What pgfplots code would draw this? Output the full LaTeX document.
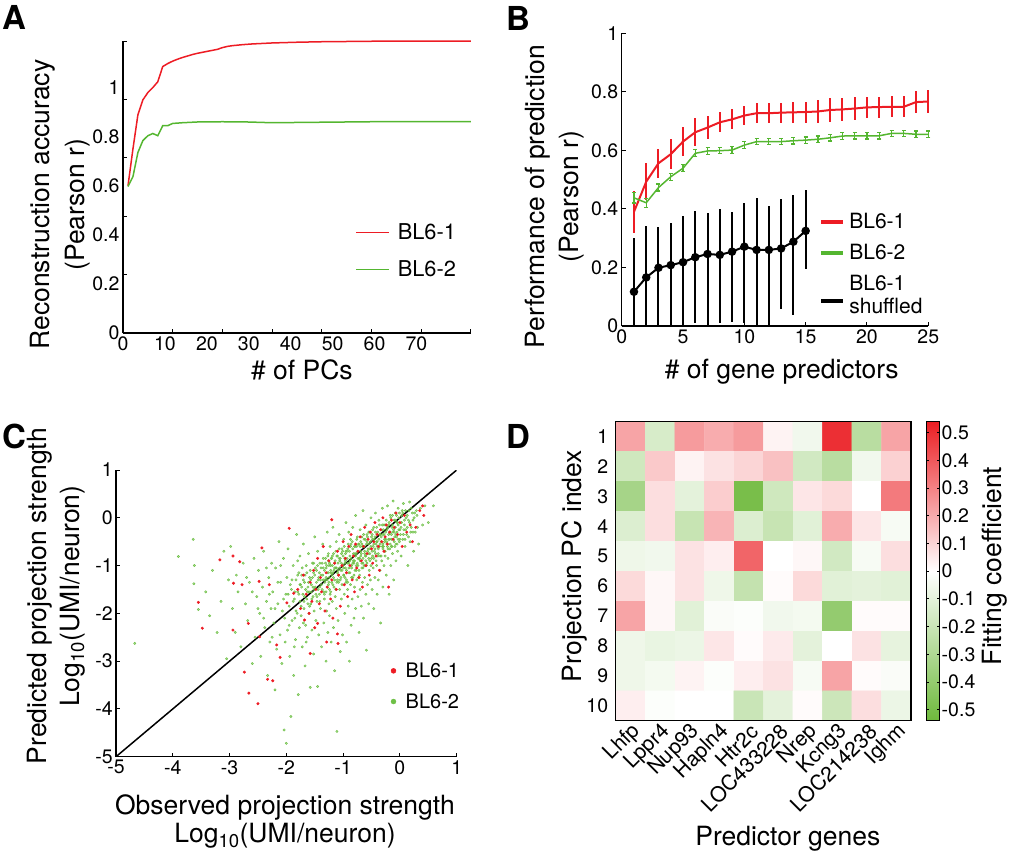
\documentclass[border=0pt]{standalone}
\usepackage{fontspec}
\setmainfont{TeX Gyre Heros}
\usepackage{pgfplots}
\pgfplotsset{compat=1.18}
\definecolor{cred}{RGB}{237,28,36}
\definecolor{cgreen}{RGB}{84,182,48}
\definecolor{dotgreen}{RGB}{110,192,70}
\pgfkeys{/pgf/number format/assume math mode=true}
\pgfplotsset{
  panel/.style={
    scale only axis, anchor=south west,
    axis lines=left, axis line style={-, line width=1.3pt},
    tick align=inside, major tick length=4pt,
    tick style={line width=1pt, black},
    tick label style={font=\fontsize{19.5}{22}\selectfont},
    label style={font=\fontsize{26.5}{31}\selectfont, align=center},
    legend style={draw=none, fill=none, inner sep=0pt, font=\fontsize{21}{23.3}\selectfont,
      nodes={inner sep=2pt}, cells={align=left}},
    legend cell align=left,
  },
}
\begin{document}
\begin{tikzpicture}
\path[use as bounding box] (0pt,0pt) rectangle (1010pt,-860pt);
\node[font=\fontsize{33}{33}\selectfont\bfseries] at (14pt,-17pt) {A};
\node[font=\fontsize{33}{33}\selectfont\bfseries] at (518pt,-18pt) {B};
\node[font=\fontsize{33}{33}\selectfont\bfseries] at (14pt,-436pt) {C};
\node[font=\fontsize{33}{33}\selectfont\bfseries] at (518pt,-436pt) {D};

% ---------- A ----------
\begin{axis}[panel, at={(123pt,-333pt)}, width=348pt, height=292pt,
  xmin=0, xmax=83, ymin=0, ymax=1.19, clip=false,
  xtick={0,10,...,70}, ytick={0,0.2,0.4,0.6,0.8,1},
  major tick length=0pt,
  extra x ticks={11.85,23.7,35.55,47.4,59.25,71.1,82.95}, extra x tick labels={},
  extra y ticks={0.238,0.476,0.714,0.952,1.19}, extra y tick labels={},
  extra tick style={major tick length=4pt},
  xlabel={\# of PCs}, ylabel={Reconstruction accuracy\\(Pearson r)},
  xlabel style={at={(axis description cs:0.514,-0.127)}, anchor=center},
  ylabel style={at={(axis description cs:-0.18,0.44)}, anchor=center, font=\fontsize{26.5}{35}\selectfont},
  legend image code/.code={\draw[#1] (0pt,0pt) -- (33pt,0pt);},
  legend style={at={(axis description cs:0.667,0.281)}, anchor=west, row sep=16pt, column sep=6pt,
    font=\fontsize{21.8}{24}\selectfont},
]
\addplot[cred, line width=1.5pt, forget plot] coordinates {
 (1.19,0.60) (2.37,0.75) (3.56,0.89) (4.74,0.95) (5.93,0.98) (7.11,1.00) (8.30,1.024)
 (9.48,1.086) (10.67,1.098) (11.85,1.108) (13.04,1.116) (14.22,1.123) (15.41,1.129)
 (16.59,1.135) (17.78,1.140) (18.96,1.144) (20.15,1.148) (21.33,1.152) (22.52,1.156)
 (23.70,1.163) (24.89,1.168) (26.07,1.171) (28.44,1.175) (30.81,1.178) (35.55,1.182)
 (41.48,1.185) (47.40,1.187) (59.25,1.189) (71.10,1.19) (82.95,1.19)};
\addplot[cgreen, line width=1.5pt, forget plot] coordinates {
 (1.19,0.597) (2.37,0.637) (3.56,0.736) (4.74,0.784) (5.93,0.804) (7.11,0.813) (8.30,0.804)
 (9.48,0.845) (10.67,0.845) (11.85,0.854) (14.22,0.857) (17.78,0.86) (23.70,0.861)
 (29.63,0.86) (35.55,0.857) (47.40,0.859) (59.25,0.861) (82.95,0.861)};
\addlegendimage{cred, line width=1.5pt}
\addlegendentry{BL6-1}
\addlegendimage{cgreen, line width=1.5pt}
\addlegendentry{BL6-2}
\end{axis}

% ---------- B ----------
\begin{axis}[panel, at={(621.7pt,-326pt)}, width=306.6pt, height=292.7pt,
  xmin=0, xmax=25, ymin=0, ymax=1, clip=false,
  xtick={0,5,...,25}, ytick={0,0.2,0.4,0.6,0.8,1},
  xlabel={\# of gene predictors}, ylabel={Performance of prediction\\(Pearson r)},
  xlabel style={at={(axis description cs:0.522,-0.156)}, anchor=center},
  ylabel style={at={(axis description cs:-0.218,0.442)}, anchor=center, font=\fontsize{26.5}{33.7}\selectfont},
  legend image code/.code={\draw[#1] (0pt,0pt) -- (22pt,0pt);},
  legend style={at={(axis description cs:0.644,0.392)}, anchor=north west, row sep=10pt, column sep=2pt},
]
\addplot[cred, line width=2pt, forget plot,
  error bars/.cd, y dir=both, y explicit, error bar style={line width=2pt, cred}, error mark=none]
 coordinates {
 (1,0.39) +- (0,0.072) (2,0.493) +- (0,0.063) (3,0.556) +- (0,0.05) (4,0.587) +- (0,0.052)
 (5,0.63) +- (0,0.05) (6,0.662) +- (0,0.047) (7,0.678) +- (0,0.04) (8,0.696) +- (0,0.034)
 (9,0.706) +- (0,0.034) (10,0.719) +- (0,0.031) (11,0.727) +- (0,0.034) (12,0.727) +- (0,0.034)
 (13,0.729) +- (0,0.034) (14,0.73) +- (0,0.036) (15,0.731) +- (0,0.036) (16,0.733) +- (0,0.04)
 (17,0.738) +- (0,0.04) (18,0.74) +- (0,0.04) (19,0.743) +- (0,0.038) (20,0.747) +- (0,0.036)
 (21,0.748) +- (0,0.036) (22,0.749) +- (0,0.036) (23,0.749) +- (0,0.036) (24,0.765) +- (0,0.038)
 (25,0.767) +- (0,0.038)};
\addplot[cgreen, line width=1.5pt, forget plot,
  error bars/.cd, y dir=both, y explicit, error bar style={line width=1.2pt, cgreen},
  error mark options={rotate=90, mark size=2pt, line width=1.2pt, cgreen}]
 coordinates {
 (1,0.438) +- (0,0.018) (2,0.421) +- (0,0.015) (3,0.473) +- (0,0.012) (4,0.51) +- (0,0.012)
 (5,0.539) +- (0,0.012) (6,0.59) +- (0,0.012) (7,0.598) +- (0,0.011) (8,0.599) +- (0,0.011)
 (9,0.601) +- (0,0.011) (10,0.618) +- (0,0.011) (11,0.63) +- (0,0.011) (12,0.63) +- (0,0.011)
 (13,0.63) +- (0,0.011) (14,0.633) +- (0,0.011) (15,0.635) +- (0,0.011) (16,0.638) +- (0,0.011)
 (17,0.643) +- (0,0.011) (18,0.649) +- (0,0.011) (19,0.65) +- (0,0.011) (20,0.65) +- (0,0.011)
 (21,0.65) +- (0,0.011) (22,0.658) +- (0,0.011) (23,0.658) +- (0,0.011) (24,0.655) +- (0,0.011)
 (25,0.655) +- (0,0.011)};
\addplot[black, line width=2pt, mark=*, mark size=3.2pt, forget plot,
  error bars/.cd, y dir=both, y explicit, error bar style={line width=2pt, black}, error mark=none]
 coordinates {
 (1,0.117) += (0,0.183) -= (0,0.117) (2,0.166) += (0,0.177) -= (0,0.166)
 (3,0.199) += (0,0.138) -= (0,0.199) (4,0.208) += (0,0.143) -= (0,0.208)
 (5,0.218) += (0,0.158) -= (0,0.218) (6,0.235) += (0,0.158) -= (0,0.224)
 (7,0.246) += (0,0.139) -= (0,0.246) (8,0.243) += (0,0.156) -= (0,0.234)
 (9,0.254) += (0,0.137) -= (0,0.239) (10,0.271) += (0,0.148) -= (0,0.262)
 (11,0.26) += (0,0.176) -= (0,0.257) (12,0.26) += (0,0.15) -= (0,0.26)
 (13,0.265) += (0,0.168) -= (0,0.208) (14,0.288) += (0,0.16) -= (0,0.25)
 (15,0.325) += (0,0.14) -= (0,0.131)};
\addlegendimage{cred, line width=4pt}
\addlegendentry{BL6-1}
\addlegendimage{cgreen, line width=4pt}
\addlegendentry{BL6-2}
\addlegendimage{black, line width=4pt, yshift=-6pt}
\addlegendentry{BL6-1\\shuffled}
\end{axis}

% ---------- C ----------
\begin{axis}[panel, at={(116pt,-756.7pt)}, width=340.7pt, height=286.7pt,
  xmin=-5, xmax=1, ymin=-5, ymax=1,
  xtick={-5,...,1}, ytick={-5,...,1},
  yticklabel style={inner sep=3pt},
  xlabel={Observed projection strength\\Log\textsubscript{10}(UMI/neuron)},
  ylabel={Predicted projection strength\\Log\textsubscript{10}(UMI/neuron)},
  xlabel style={at={(axis description cs:0.496,-0.226)}, anchor=center, font=\fontsize{26.5}{28.4}\selectfont},
  ylabel style={at={(axis description cs:-0.175,0.56)}, anchor=center, font=\fontsize{26.5}{33}\selectfont},
  legend image code/.code={\fill[#1] (2.5pt,0pt) circle (2.5pt);},
  legend style={at={(axis description cs:0.806,0.246)}, anchor=west, row sep=10.6pt, column sep=7.5pt,
    font=\fontsize{20}{22}\selectfont},
]
\addplot[only marks, mark=*, mark size=1.2pt, dotgreen, mark options={draw=none, fill=dotgreen, fill opacity=0.6}, forget plot] coordinates {
 (-4.67,-2.63) (-3.9,-0.81) (-3.64,-0.45) (-3.62,-1.0) (-3.63,-1.38) (-3.55,-1.92)
 (-3.42,-1.55) (-3.35,-2.05) (-3.3,-1.1) (-3.22,-2.4) (-3.15,-1.75) (-3.1,-0.7) (-3.05,-2.95) (-3.02,-1.3)
 (-2.98,-0.6) (-2.95,-1.9) (-2.9,-2.4) (-2.88,-1.2) (-2.85,-1.55) (-2.8,-2.7) (-2.76,-0.95) (-2.72,-1.8)
 (-2.68,-2.15) (-2.65,-1.35) (-2.6,-3.05) (-2.57,-0.85) (-2.55,-2.5) (-2.52,-1.65)
 (-2.49,-1.1) (-2.47,-2.0) (-2.45,-2.9) (-2.42,-1.45) (-2.4,-0.7) (-2.38,-2.3) (-2.35,-1.75) (-2.33,-3.3)
 (-2.31,-1.25) (-2.29,-2.6) (-2.27,-1.9) (-2.26,-0.95)
 (-2.24,-1.55) (-2.22,-2.2) (-2.2,-3.6) (-2.19,-1.05) (-2.17,-2.75) (-2.15,-1.8) (-2.13,-0.5) (-2.11,-2.45)
 (-2.1,-1.35) (-2.08,-3.05) (-2.07,-1.95) (-2.05,-0.85) (-2.04,-4.44) (-2.03,-2.1) (-2.01,-1.6) (-2.0,-4.72)
 (-1.99,-1.25) (-1.98,-2.35) (-1.97,-0.65) (-1.95,-1.85) (-1.94,-2.9) (-1.92,-4.16) (-1.91,-1.5) (-1.9,-2.15)
 (-1.88,-1.0) (-1.87,-3.3) (-1.86,-1.7) (-1.84,-2.55) (-1.83,-1.3) (-1.82,-0.35) (-1.81,-2.0) (-1.8,-1.55)
 (-1.79,-3.7) (-1.78,-1.15) (-1.77,-2.3) (-1.76,-1.75) (-1.76,-0.8) (-1.75,-1.4)
 (-1.74,-2.05) (-1.73,-1.2) (-1.72,-2.7) (-1.71,-1.6) (-1.7,-0.55) (-1.69,-1.9) (-1.68,-1.35) (-1.67,-3.1)
 (-1.66,-2.25) (-1.65,-1.0) (-1.64,-1.7) (-1.63,-2.5) (-1.62,-1.45) (-1.61,-0.75) (-1.6,-2.0) (-1.59,-1.25)
 (-1.58,-3.55) (-1.57,-1.8) (-1.56,-1.55) (-1.55,-2.35) (-1.54,-0.95) (-1.53,-1.65) (-1.52,-2.85) (-1.52,-1.15)
 (-1.51,-1.95) (-1.5,-0.4)
 (-1.49,-1.45) (-1.48,-2.15) (-1.47,-1.1) (-1.46,-1.75) (-1.45,-3.53) (-1.45,-0.7) (-1.44,-1.3) (-1.43,-2.45)
 (-1.42,-1.6) (-1.41,-0.95) (-1.4,-1.9) (-1.39,-1.2) (-1.38,-2.7) (-1.37,-1.5) (-1.36,-0.55) (-1.35,-1.05)
 (-1.34,-2.2) (-1.33,-1.7) (-1.32,-1.35) (-1.31,-0.85) (-1.3,-3.0) (-1.3,-1.55) (-1.29,-1.95) (-1.28,-1.15)
 (-1.28,-0.3) (-1.27,-2.4) (-1.26,-1.4) (-1.26,-0.75) (-1.25,-1.8) (-1.25,-1.0)
 (-1.24,-1.25) (-1.24,-2.05) (-1.23,-0.6) (-1.22,-1.55) (-1.22,-1.0) (-1.21,-2.6) (-1.2,-1.35) (-1.2,-0.85)
 (-1.19,-1.75) (-1.18,-0.2) (-1.18,-1.15) (-1.17,-2.3) (-1.16,-1.45) (-1.15,-0.95) (-1.15,-3.2) (-1.14,-1.65)
 (-1.13,-1.05) (-1.12,-0.5) (-1.12,-1.9) (-1.11,-4.47) (-1.1,-1.3) (-1.1,-0.8) (-1.09,-2.15) (-1.08,-1.2)
 (-1.07,-0.35) (-1.06,-1.5) (-1.06,-0.9) (-1.05,-2.8) (-1.04,-1.1) (-1.03,-1.7) (-1.02,-0.65) (-1.02,-1.4)
 (-1.01,-2.45) (-1.0,-1.0)
 (-0.99,-1.2) (-0.99,-0.45) (-0.98,-1.6) (-0.97,-0.85) (-0.97,-2.0) (-0.96,-1.05) (-0.95,-0.1) (-0.95,-1.35)
 (-0.94,-2.6) (-0.93,-0.7) (-0.92,-1.5) (-0.92,-0.95) (-0.91,-1.85) (-0.9,-0.3) (-0.9,-1.15) (-0.89,-3.0)
 (-0.88,-0.8) (-0.87,-1.4) (-0.86,-2.25) (-0.86,-0.55) (-0.85,-1.0) (-0.84,-1.7) (-0.83,-0.2) (-0.83,-1.25)
 (-0.82,-0.9) (-0.81,-2.1) (-0.8,-0.6) (-0.8,-1.45) (-0.79,-1.1) (-0.78,0.05) (-0.78,-1.9) (-0.77,-0.75)
 (-0.76,-1.3) (-0.75,-0.4)
 (-0.74,-1.0) (-0.74,-1.65) (-0.73,-0.55) (-0.72,-2.4) (-0.72,-0.85) (-0.71,-1.2) (-0.7,-0.25) (-0.7,-1.5)
 (-0.69,-0.7) (-0.68,-1.85) (-0.67,-0.95) (-0.67,-0.4) (-0.66,-1.35) (-0.65,0.15) (-0.65,-1.05) (-0.64,-2.1)
 (-0.63,-0.6) (-0.62,-1.25) (-0.61,-0.8) (-0.6,-1.6) (-0.6,-0.15) (-0.59,-2.77) (-0.59,-1.0) (-0.58,-0.5)
 (-0.57,-1.4) (-0.56,-0.75) (-0.55,-1.8) (-0.55,-0.3) (-0.54,-1.1) (-0.53,-0.65) (-0.52,-1.3) (-0.51,0.0)
 (-0.5,-0.85) (-0.49,-1.5) (-0.48,-0.45) (-0.47,-1.05) (-0.46,-0.2) (-0.46,-1.9) (-0.45,-0.7) (-0.44,-1.25)
 (-0.43,0.1) (-0.42,-0.55) (-0.41,-1.0) (-0.4,-1.6) (-0.4,-0.35) (-0.39,-0.8) (-0.38,-1.3) (-0.37,-0.05)
 (-0.36,-0.6) (-0.35,-1.1) (-0.34,-2.2) (-0.33,-0.4) (-0.32,-0.9) (-0.31,0.2) (-0.3,-1.45) (-0.3,-0.65)
 (-0.29,-0.25) (-0.28,-1.0) (-0.27,-0.5) (-0.26,-0.8)
 (-0.25,-0.15) (-0.24,-1.2) (-0.23,-0.55) (-0.22,0.25) (-0.21,-0.85) (-0.2,-0.35) (-0.19,-1.6) (-0.18,-0.65)
 (-0.17,0.05) (-0.16,-1.0) (-0.15,-0.45) (-0.14,-0.2) (-0.13,-0.75) (-0.12,0.35) (-0.11,-1.3) (-0.1,-0.3)
 (-0.09,-0.6) (-0.08,0.1) (-0.07,-0.9) (-0.06,-0.4) (-0.05,-0.1) (-0.04,-0.7) (-0.03,0.2) (-0.01,-0.5)
 (0.0,-0.25) (0.02,-0.8) (0.03,0.05) (0.05,-0.45) (0.06,0.3) (0.08,-0.15) (0.09,-0.6) (0.1,0.15)
 (0.12,-0.35) (0.14,-1.0) (0.15,-0.05) (0.17,0.33) (0.18,-0.5) (0.2,-0.2) (0.22,0.1) (0.24,-0.7)
 (0.27,-0.3) (0.3,0.05) (0.33,-0.55) (0.36,0.2) (0.4,-0.15) (0.44,0.25) (0.5,-0.1) (0.59,0.25)
 (-1.9,-1.3) (-1.88,-1.75) (-1.85,-1.55) (-1.83,-1.95) (-1.8,-1.2) (-1.78,-1.6) (-1.76,-1.4) (-1.74,-1.85)
 (-1.72,-1.05) (-1.7,-1.3) (-1.68,-1.65) (-1.66,-1.5) (-1.64,-1.15) (-1.62,-1.8) (-1.61,-1.35)
 (-1.6,-1.55) (-1.58,-1.1) (-1.56,-1.4) (-1.55,-1.7) (-1.54,-1.25) (-1.52,-0.95) (-1.51,-1.5)
 (-1.5,-1.2) (-1.48,-1.6) (-1.47,-1.35) (-1.45,-1.0) (-1.44,-1.5) (-1.42,-1.15) (-1.41,-1.75) (-1.4,-1.3)
 (-1.39,-1.05) (-1.38,-1.4) (-1.36,-1.2) (-1.35,-0.85) (-1.34,-1.55) (-1.33,-1.1) (-1.32,-1.3) (-1.31,-0.95)
 (-1.3,-1.25) (-1.29,-1.0) (-1.28,-1.45) (-1.27,-0.8) (-1.26,-1.15) (-1.25,-1.35) (-1.24,-0.95) (-1.23,-1.6) (-1.22,-1.1)
 (-1.21,-0.85) (-1.2,-1.2) (-1.19,-1.0) (-1.18,-1.4) (-1.17,-0.75) (-1.16,-1.1) (-1.15,-1.3) (-1.14,-0.9) (-1.13,-1.5) (-1.12,-1.05)
 (-1.11,-0.8) (-1.1,-1.15) (-1.09,-0.95) (-1.08,-1.35) (-1.07,-0.65) (-1.06,-1.05) (-1.05,-0.85) (-1.04,-1.25) (-1.03,-0.75) (-1.02,-1.1)
 (-1.0,-0.8) (-0.99,-1.05) (-0.98,-0.6) (-0.97,-1.25) (-0.96,-0.9) (-0.95,-0.7) (-0.94,-1.1) (-0.93,-0.85) (-0.92,-1.35) (-0.91,-0.55)
 (-0.9,-0.95) (-0.89,-0.7) (-0.88,-1.15) (-0.87,-0.6) (-0.86,-0.85) (-0.85,-1.05) (-0.84,-0.5) (-0.83,-0.95) (-0.82,-0.75) (-0.81,-1.2)
 (-0.8,-0.9) (-0.79,-0.6) (-0.78,-0.8) (-0.77,-1.1) (-0.76,-0.45) (-0.75,-0.95) (-0.74,-0.7) (-0.73,-1.25) (-0.72,-0.55) (-0.71,-0.85)
 (-0.7,-0.9) (-0.69,-0.5) (-0.68,-0.75) (-0.67,-1.05) (-0.66,-0.6) (-0.65,-0.85) (-0.64,-0.35) (-0.63,-1.0) (-0.62,-0.7) (-0.61,-0.45)
 (-0.6,-0.8) (-0.59,-0.55) (-0.58,-0.95) (-0.57,-0.4) (-0.56,-0.65) (-0.55,-0.85) (-0.54,-0.3) (-0.53,-0.75) (-0.52,-0.5) (-0.51,-1.0)
 (-0.5,-0.4) (-0.49,-0.7) (-0.48,-0.25) (-0.47,-0.6) (-0.46,-0.85) (-0.45,-0.45) (-0.44,-0.65) (-0.43,-0.3) (-0.42,-0.9) (-0.41,-0.5)
 (-0.4,-0.6) (-0.39,-0.3) (-0.38,-0.75) (-0.37,-0.45) (-0.36,-0.15) (-0.35,-0.55) (-0.34,-0.35) (-0.33,-0.8) (-0.32,-0.25) (-0.31,-0.6)
 (-0.3,-0.35) (-0.29,-0.6) (-0.28,-0.15) (-0.27,-0.45) (-0.26,-0.7) (-0.25,-0.3) (-0.24,-0.05) (-0.23,-0.5) (-0.22,-0.2) (-0.21,-0.65)
 (-0.2,-0.45) (-0.19,-0.1) (-0.18,-0.3) (-0.17,-0.55) (-0.16,0.0) (-0.15,-0.35) (-0.14,-0.6) (-0.13,-0.15) (-0.12,-0.45) (-0.11,-0.25)
 (-0.1,-0.05) (-0.09,-0.4) (-0.08,-0.2) (-0.07,-0.55) (-0.06,0.05) (-0.05,-0.3) (-0.04,-0.1) (-0.03,-0.45) (-0.02,-0.25) (-0.01,0.1)
 (0.01,-0.35) (0.03,-0.1) (0.05,0.1) (0.07,-0.25) (0.09,-0.45) (0.11,0.0) (0.13,-0.2) (0.16,0.15) (0.19,-0.3) (0.23,-0.05) (0.26,0.1) (0.31,-0.2)
 (-1.73,-1.45) (-1.69,-1.75) (-1.67,-1.2) (-1.63,-1.55) (-1.59,-1.85) (-1.57,-1.3) (-1.53,-1.45) (-1.49,-1.05) (-1.46,-1.65) (-1.43,-1.25)
 (-1.41,-1.45) (-1.37,-0.95) (-1.35,-1.3) (-1.33,-1.6) (-1.3,-1.05) (-1.28,-1.3) (-1.26,-0.9) (-1.24,-1.5) (-1.21,-1.15) (-1.19,-0.8)
 (-1.17,-1.25) (-1.15,-1.05) (-1.13,-0.7) (-1.11,-1.35) (-1.09,-1.1) (-1.07,-0.85) (-1.05,-1.3) (-1.03,-0.95) (-1.01,-0.7) (-0.99,-1.2)
 (-0.97,-0.95) (-0.96,-0.75) (-0.94,-1.3) (-0.92,-0.65) (-0.9,-1.05) (-0.88,-0.9) (-0.87,-0.45) (-0.85,-1.25) (-0.83,-0.65) (-0.81,-0.95)
 (-0.79,-0.75) (-0.77,-1.0) (-0.76,-0.6) (-0.74,-0.85) (-0.72,-1.1) (-0.7,-0.6) (-0.69,-0.8) (-0.67,-0.55) (-0.65,-0.95) (-0.63,-0.45)
 (-0.62,-0.75) (-0.6,-0.9) (-0.58,-0.35) (-0.57,-0.7) (-0.55,-0.55) (-0.53,-0.9) (-0.51,-0.6) (-0.49,-0.35) (-0.48,-0.8) (-0.46,-0.55)
 (-0.44,-0.4) (-0.43,-0.75) (-0.41,-0.2) (-0.4,-0.5) (-0.38,-0.65) (-0.36,-0.35) (-0.35,-0.8) (-0.33,-0.5) (-0.31,-0.15) (-0.3,-0.55)
 (-0.28,-0.35) (-0.27,-0.7) (-0.25,-0.45) (-0.23,-0.25) (-0.22,-0.6) (-0.2,-0.15) (-0.18,-0.45) (-0.17,-0.3) (-0.15,-0.6) (-0.13,0.05)
 (-0.12,-0.3) (-0.1,-0.5) (-0.08,-0.05) (-0.07,-0.35) (-0.05,-0.55) (-0.03,-0.15) (-0.02,0.0) (0.0,-0.45) (0.02,-0.2) (0.04,0.15)
 (0.06,-0.35) (0.08,-0.05) (0.1,-0.25) (0.13,0.05) (0.15,-0.4) (0.17,-0.1) (0.2,0.2) (0.23,-0.3) (0.25,0.0) (0.29,0.15)
 (-2.3,-1.6) (-2.2,-1.9) (-2.15,-1.35) (-2.05,-1.7) (-1.95,-2.25) (-1.93,-1.4) (-1.85,-2.1) (-1.8,-0.9) (-2.6,-1.55) (-2.4,-2.1)
 (-2.7,-1.25) (-2.5,-1.9) (-2.35,-1.05) (-2.25,-2.5) (-2.1,-1.0) (-2.02,-2.6) (-1.97,-1.6) (-1.86,-2.7) (-1.7,-2.2) (-1.65,-2.6)
};
\addplot[only marks, mark=*, mark size=1.3pt, cred, mark options={draw=none, fill=cred}, forget plot] coordinates {
 (-3.17,-0.88) (-2.94,-0.80) (-2.93,-1.37) (-3.55,-1.77) (-3.48,-2.31) (-2.94,-2.35) (-2.74,-3.23)
 (-2.66,-3.67) (-2.5,-3.89) (-2.33,-3.38) (-2.24,-3.41) (-1.95,-0.22) (-1.2,-0.04) (-2.43,-0.63) (-2.78,-1.4)
 (-2.82,-0.92) (-2.48,-1.33) (-2.3,-1.4) (-2.67,-2.21) (-2.47,-2.49) (-2.17,-2.66) (-2.11,-2.92)
 (-1.58,-2.84) (-1.29,-2.6) (-1.09,-2.63) (-1.1,-2.43) (-1.45,-2.21) (-1.68,-2.14) (-1.99,-1.78) (-1.87,-1.58)
 (-1.8,-1.5) (-1.75,-1.9) (-1.7,-1.2) (-1.65,-1.6) (-1.6,-2.0) (-1.58,-1.35) (-1.55,-1.75) (-1.52,-1.1)
 (-1.5,-2.3) (-1.48,-1.5) (-1.45,-0.85) (-1.42,-1.8) (-1.4,-1.25) (-1.38,-1.55) (-1.35,-0.6) (-1.32,-1.95)
 (-1.3,-1.15) (-1.28,-1.45) (-1.25,-0.9) (-1.22,-1.7) (-1.2,-1.3) (-1.18,-2.1) (-1.15,-0.95) (-1.12,-1.5)
 (-1.1,-0.7) (-1.08,-1.2) (-1.05,-1.85) (-1.02,-1.0) (-1.0,-0.5) (-0.98,-1.4) (-0.96,-0.85) (-0.94,-1.15)
 (-0.92,-1.65) (-0.9,-0.6) (-0.88,-1.0) (-0.86,-0.35) (-0.84,-1.3) (-0.82,-0.8) (-0.8,-1.55) (-0.78,-0.55)
 (-0.76,-1.05) (-0.74,-0.7) (-0.72,-1.25) (-0.7,-0.4) (-0.68,-0.9) (-0.66,-1.45) (-0.64,-0.6) (-0.62,-0.2)
 (-0.6,-1.0) (-0.58,-0.75) (-0.56,-0.45) (-0.54,-1.2) (-0.52,-0.3) (-0.5,-0.65) (-0.48,-0.95) (-0.46,-0.5)
 (-0.44,-0.1) (-0.42,-0.8) (-0.4,-0.35) (-0.38,-0.6) (-0.36,-1.1) (-0.34,-0.25) (-0.32,-0.5) (-0.3,0.0)
 (-0.28,-0.7) (-0.26,-0.4) (-0.24,-0.15) (-0.22,-0.55) (-0.2,-1.45) (-0.18,-0.3) (-0.15,-0.05) (-0.12,-0.45)
 (-0.1,-0.2) (-0.07,0.1) (-0.04,-0.35) (0.0,-0.1) (0.04,-0.6) (0.08,0.05) (0.12,-0.3) (0.18,-0.15)
 (0.22,-0.5) (0.28,-0.2) (0.35,0.15) (0.4,0.25) (0.42,0.05)
};
\addplot[black, line width=1.5pt, forget plot] coordinates {(-5,-5) (1,1)};
\addlegendimage{cred}
\addlegendentry{BL6-1}
\addlegendimage{dotgreen}
\addlegendentry{BL6-2}
\end{axis}

% ---------- D ----------
\begin{axis}[scale only axis, anchor=south west, at={(615.7pt,-720.7pt)}, width=295.3pt, height=299pt,
  enlargelimits=false, xmin=0.5, xmax=10.5, ymin=0.5, ymax=10.5, y dir=reverse,
  axis on top, axis line style={line width=1.5pt}, major tick length=0pt,
  xtick={1,...,10}, ytick={1,...,10},
  xticklabels={Lhfp,Lppr4,Nup93,Hapln4,Htr2c,LOC433228,Nrep,Kcng3,LOC214238,Ighm},
  tick label style={font=\fontsize{19.5}{22}\selectfont},
  xticklabel style={xshift=9pt, yshift=-5pt, rotate=45, anchor=east, font=\fontsize{21}{23}\selectfont},
  yticklabel style={xshift=-4pt},
  xlabel={Predictor genes}, ylabel={Projection PC index},
  label style={font=\fontsize{26.5}{31}\selectfont},
  xlabel style={at={(axis description cs:0.583,-0.396)}, anchor=center},
  ylabel style={at={(axis description cs:-0.138,0.517)}, anchor=center},
  colormap={gr}{rgb255=(110,185,60) rgb255=(255,255,255) rgb255=(235,30,35)},
  point meta min=-0.54, point meta max=0.54,
  colorbar,
  colorbar style={at={(parent axis.north east)}, anchor=north west, xshift=6.7pt, width=13.3pt,
    ytick={-0.5,-0.4,-0.3,-0.2,-0.1,0,0.1,0.2,0.3,0.4,0.5},
    axis line style={line width=1.3pt}, major tick length=3pt, tick align=inside,
    tick style={black, line width=0.8pt},
    yticklabel style={font=\fontsize{19.5}{22}\selectfont, inner sep=2pt}},
]
\addplot[matrix plot*, point meta=explicit, mesh/cols=10] table[meta=c] {
x y c
1 1 0.22
2 1 -0.15
3 1 0.24
4 1 0.2
5 1 0.24
6 1 0.03
7 1 -0.05
8 1 0.5
9 1 -0.26
10 1 0.22
1 2 -0.18
2 2 0.13
3 2 0.03
4 2 0.07
5 2 0.1
6 2 0.15
7 2 -0.17
8 2 -0.26
9 2 -0.05
10 2 0.11
1 3 -0.33
2 3 0.08
3 3 -0.1
4 3 0.12
5 3 -0.5
6 3 -0.18
7 3 0.06
8 3 0.09
9 3 0.0
10 3 0.32
1 4 -0.13
2 4 0.08
3 4 -0.21
4 4 0.18
5 4 -0.13
6 4 -0.21
7 4 -0.11
8 4 0.2
9 4 0.06
10 4 -0.03
1 5 -0.06
2 5 -0.05
3 5 0.07
4 5 0.04
5 5 0.37
6 5 0.0
7 5 0.02
8 5 -0.17
9 5 -0.03
10 5 0.08
1 6 0.09
2 6 0.02
3 6 0.07
4 6 -0.06
5 6 -0.22
6 6 0.01
7 6 0.09
8 6 -0.11
9 6 -0.1
10 6 -0.11
1 7 0.22
2 7 0.02
3 7 -0.11
4 7 -0.02
5 7 -0.01
6 7 -0.05
7 7 -0.04
8 7 -0.4
9 7 0.01
10 7 0.01
1 8 -0.06
2 8 -0.08
3 8 -0.07
4 8 0.06
5 8 0.01
6 8 0.05
7 8 -0.1
8 8 0.0
9 8 0.07
10 8 -0.09
1 9 -0.06
2 9 -0.04
3 9 0.03
4 9 -0.01
5 9 0.04
6 9 0.07
7 9 -0.03
8 9 0.22
9 9 0.01
10 9 -0.02
1 10 0.04
2 10 -0.01
3 10 0.0
4 10 0.0
5 10 -0.2
6 10 -0.1
7 10 0.01
8 10 -0.19
9 10 0.08
10 10 -0.07
};
\end{axis}
\node[rotate=90, font=\fontsize{26.5}{31}\selectfont] at (995pt,-566pt) {Fitting coefficient};
\end{tikzpicture}
\end{document}
